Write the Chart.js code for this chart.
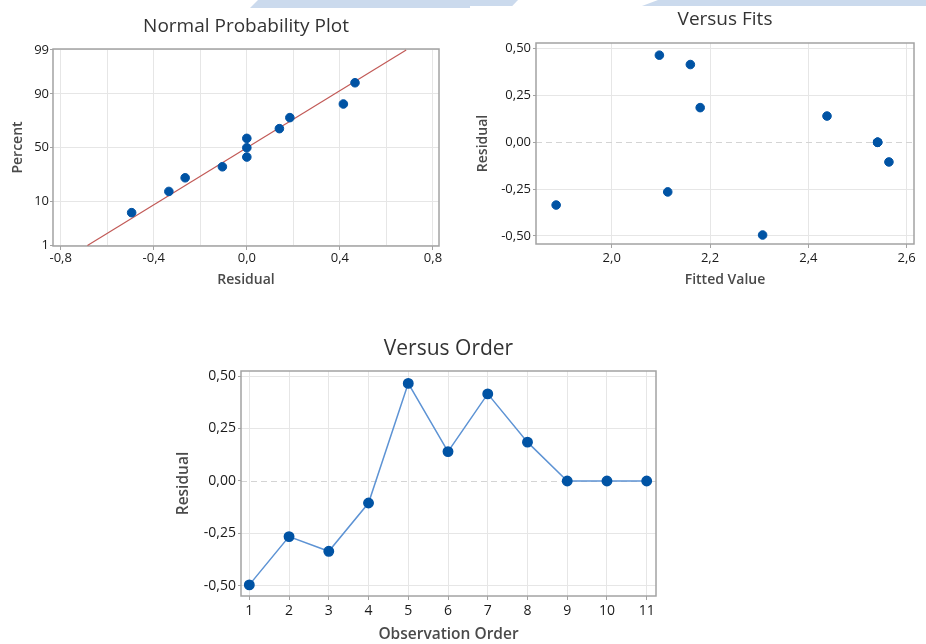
<!DOCTYPE html>
<html>
<head>
<meta charset="utf-8">
<title>Residual Plots</title>
<script src="https://cdn.jsdelivr.net/npm/chart.js@4/dist/chart.umd.min.js"></script>
<style>
  html, body { margin: 0; padding: 0; background: #fff; }
  body { position: relative; width: 926px; height: 644px; overflow: hidden; }
  canvas { position: absolute; display: block; }
  .band { position: absolute; top: 0; background: #cbdaed; }
</style>
</head>
<body>
<div class="band" style="left:250px; width:220px; height:8px; clip-path:polygon(8px 0, 100% 0, 100% 100%, 0 100%);"></div>
<div class="band" style="left:470px; width:48px; height:6px; clip-path:polygon(0 0, 100% 0, 88% 100%, 0 100%);"></div>
<div class="band" style="left:642px; width:284px; height:6px; clip-path:polygon(16px 0, 100% 0, 100% 100%, 0 100%);"></div>

<canvas id="normal-chart" width="460" height="300" style="left:0; top:0;"></canvas>
<canvas id="fits-chart" width="466" height="300" style="left:460px; top:0;"></canvas>
<canvas id="order-chart" width="520" height="314" style="left:160px; top:330px;"></canvas>

<script>
// values
const observationOrder = [1, 2, 3, 4, 5, 6, 7, 8, 9, 10, 11];
const residuals = [-0.495, -0.265, -0.335, -0.105, 0.465, 0.14, 0.415, 0.185, 0, 0, 0];
const fittedValues = [2.307, 2.114, 1.887, 2.564, 2.097, 2.438, 2.16, 2.18, 2.541, 2.541, 2.541];

// normal probability plot (residuals in ascending order and their plotted percent)
const normalResiduals = [-0.495, -0.335, -0.265, -0.105, 0, 0, 0, 0.14, 0.185, 0.415, 0.465];
const normalPercents = [6.1, 14.9, 23.7, 32.5, 41.2, 50, 58.8, 67.5, 76.3, 85.1, 93.9];
const fitLineResiduals = [-0.685, 0.685];
const fitLinePercents = [1, 99];

// ticks
const percentTicks = [1, 10, 50, 90, 99];
const percentLabels = ["1", "10", "50", "90", "99"];
const normalXTicks = [-0.8, -0.6, -0.4, -0.2, 0, 0.2, 0.4, 0.6, 0.8];
const normalXLabels = ["-0,8", "", "-0,4", "", "0,0", "", "0,4", "", "0,8"];
const residualTicks = [-0.5, -0.25, 0, 0.25, 0.5];
const residualLabels = ["-0,50", "-0,25", "0,00", "0,25", "0,50"];
const fittedTicks = [2.0, 2.2, 2.4, 2.6];
const fittedLabels = ["2,0", "2,2", "2,4", "2,6"];
const orderLabels = ["1", "2", "3", "4", "5", "6", "7", "8", "9", "10", "11"];

const POINT = "#0053a4";
const GRID = "#e6e6e6";
const FRAME = "#a3a3a3";
const NONE = "rgba(0,0,0,0)";

Chart.defaults.font.family = "'Open Sans', 'Noto Sans', sans-serif";
Chart.defaults.animation = false;

// inverse of the standard normal cdf (Acklam), used for the probability scale
function probit(p) {
  const a = [-39.69683028665376, 220.9460984245205, -275.9285104469687, 138.357751867269, -30.66479806614716, 2.506628277459239];
  const b = [-54.47609879822406, 161.5858368580409, -155.6989798598866, 66.80131188771972, -13.28068155288572];
  const c = [-0.007784894002430293, -0.3223964580411365, -2.400758277161838, -2.549732539343734, 4.374664141464968, 2.938163982698783];
  const d = [0.007784695709041462, 0.3224671290700398, 2.445134137142996, 3.754408661907416];
  const tail = (q) =>
    (((((c[0] * q + c[1]) * q + c[2]) * q + c[3]) * q + c[4]) * q + c[5]) /
    ((((d[0] * q + d[1]) * q + d[2]) * q + d[3]) * q + 1);
  if (p < 0.02425) return tail(Math.sqrt(-2 * Math.log(p)));
  if (p > 1 - 0.02425) return -tail(Math.sqrt(-2 * Math.log(1 - p)));
  const q = p - 0.5;
  const r = q * q;
  return ((((((a[0] * r + a[1]) * r + a[2]) * r + a[3]) * r + a[4]) * r + a[5]) * q) /
    (((((b[0] * r + b[1]) * r + b[2]) * r + b[3]) * r + b[4]) * r + 1);
}

// frame round the plot area and the dashed zero reference line
const framePlugin = {
  id: "frame",
  beforeDatasetsDraw(chart, args, opts) {
    const { ctx, chartArea: a } = chart;
    ctx.save();
    if (opts.zeroLine) {
      const y = Math.round(chart.scales.y.getPixelForValue(0)) + 0.5;
      ctx.strokeStyle = "#d4d4d4";
      ctx.lineWidth = 1.2;
      ctx.setLineDash([6, 4]);
      ctx.beginPath();
      ctx.moveTo(a.left, y);
      ctx.lineTo(a.right, y);
      ctx.stroke();
      ctx.setLineDash([]);
    }
    ctx.strokeStyle = FRAME;
    ctx.lineWidth = 1.5;
    ctx.strokeRect(a.left, a.top, a.right - a.left, a.bottom - a.top);
    ctx.restore();
  },
};

function axis(o) {
  return {
    type: "linear",
    min: o.min,
    max: o.max,
    afterBuildTicks: (scale) => {
      scale.ticks = o.ticks.map((v) => ({ value: v }));
    },
    afterFit: (scale) => {
      if (scale.isHorizontal()) scale.height = o.size;
      else scale.width = o.size;
    },
    grid: {
      color: (ctx) => (o.zeroDashed && ctx.tick && ctx.tick.value === 0 ? NONE : GRID),
      tickColor: (ctx) => (o.labels[ctx.index] === "" ? NONE : FRAME),
      tickLength: o.tickLength,
      lineWidth: 1,
    },
    border: { display: false },
    ticks: {
      autoSkip: false,
      maxRotation: 0,
      padding: o.tickPadding,
      color: "#1a1a1a",
      font: { size: o.tickSize, lineHeight: 1.2 },
      callback: (value, index) => o.labels[index],
    },
    title: {
      display: true,
      text: o.title,
      color: "#4a4a4a",
      font: { size: o.titleSize, weight: "600", lineHeight: 1.2 },
      padding: o.titlePadding,
    },
  };
}

function chartTitle(text, size, top, bottom) {
  return {
    display: true,
    text: text,
    fullSize: false,
    color: "#333",
    font: { size: size, weight: "normal", lineHeight: 1.2 },
    padding: { top: top, bottom: bottom },
  };
}

function createNormalChart() {
  const ctx = document.getElementById("normal-chart").getContext("2d");
  return new Chart(ctx, {
    type: "scatter",
    data: {
      datasets: [
        {
          data: fitLineResiduals.map((x, i) => ({ x: x, y: probit(fitLinePercents[i] / 100) })),
          showLine: true,
          borderColor: "#c25a57",
          borderWidth: 1.2,
          pointRadius: 0,
          order: 2,
        },
        {
          data: normalResiduals.map((x, i) => ({ x: x, y: probit(normalPercents[i] / 100) })),
          backgroundColor: POINT,
          borderColor: POINT,
          pointRadius: 4.3,
          order: 1,
        },
      ],
    },
    options: {
      responsive: false,
      layout: { padding: { left: 0, right: 21, top: 0, bottom: 0 } },
      scales: {
        x: axis({
          min: -0.833, max: 0.826, ticks: normalXTicks, labels: normalXLabels,
          size: 54, tickLength: 4, tickPadding: 0, tickSize: 13,
          title: "Residual", titleSize: 14, titlePadding: { top: 0, bottom: 12 },
        }),
        y: axis({
          min: -2.34, max: 2.35, ticks: percentTicks.map((p) => probit(p / 100)), labels: percentLabels,
          size: 53, tickLength: 3, tickPadding: 1, tickSize: 13,
          title: "Percent", titleSize: 14, titlePadding: { top: 10, bottom: 0 },
        }),
      },
      plugins: {
        legend: { display: false },
        tooltip: { enabled: false },
        title: chartTitle("Normal Probability Plot", 19, 15.1, 11.1),
        frame: { zeroLine: false },
      },
    },
    plugins: [framePlugin],
  });
}

function createFitsChart() {
  const ctx = document.getElementById("fits-chart").getContext("2d");
  return new Chart(ctx, {
    type: "scatter",
    data: {
      datasets: [
        {
          data: fittedValues.map((x, i) => ({ x: x, y: residuals[i] })),
          backgroundColor: POINT,
          borderColor: POINT,
          pointRadius: 4.3,
        },
      ],
    },
    options: {
      responsive: false,
      layout: { padding: { left: 0, right: 12, top: 0, bottom: 0 } },
      scales: {
        x: axis({
          min: 1.846, max: 2.615, ticks: fittedTicks, labels: fittedLabels,
          size: 56, tickLength: 4, tickPadding: 2, tickSize: 13,
          title: "Fitted Value", titleSize: 14, titlePadding: { top: 0, bottom: 11.6 },
        }),
        y: axis({
          min: -0.543, max: 0.53, ticks: residualTicks, labels: residualLabels, zeroDashed: true,
          size: 76, tickLength: 3, tickPadding: 2, tickSize: 13,
          title: "Residual", titleSize: 14, titlePadding: { top: 14.3, bottom: 0 },
        }),
      },
      plugins: {
        legend: { display: false },
        tooltip: { enabled: false },
        title: chartTitle("Versus Fits", 19, 8.1, 12.1),
        frame: { zeroLine: true },
      },
    },
    plugins: [framePlugin],
  });
}

function createOrderChart() {
  const ctx = document.getElementById("order-chart").getContext("2d");
  return new Chart(ctx, {
    type: "scatter",
    data: {
      datasets: [
        {
          data: observationOrder.map((x, i) => ({ x: x, y: residuals[i] })),
          showLine: true,
          borderColor: "#5d93d4",
          borderWidth: 1.5,
          pointBackgroundColor: POINT,
          pointBorderColor: POINT,
          pointRadius: 4.7,
        },
      ],
    },
    options: {
      responsive: false,
      layout: { padding: { left: 0, right: 24, top: 0, bottom: 0 } },
      scales: {
        x: axis({
          min: 0.791, max: 11.234, ticks: observationOrder, labels: orderLabels,
          size: 48, tickLength: 4, tickPadding: 3, tickSize: 14,
          title: "Observation Order", titleSize: 15.5, titlePadding: { top: 0, bottom: 0 },
        }),
        y: axis({
          min: -0.548, max: 0.524, ticks: residualTicks, labels: residualLabels, zeroDashed: true,
          size: 81, tickLength: 3, tickPadding: 2, tickSize: 14,
          title: "Residual", titleSize: 15.5, titlePadding: { top: 14, bottom: 0 },
        }),
      },
      plugins: {
        legend: { display: false },
        tooltip: { enabled: false },
        title: chartTitle("Versus Order", 21, 6.6, 9.2),
        frame: { zeroLine: true },
      },
    },
    plugins: [framePlugin],
  });
}

createNormalChart();
createFitsChart();
createOrderChart();
</script>
</body>
</html>
